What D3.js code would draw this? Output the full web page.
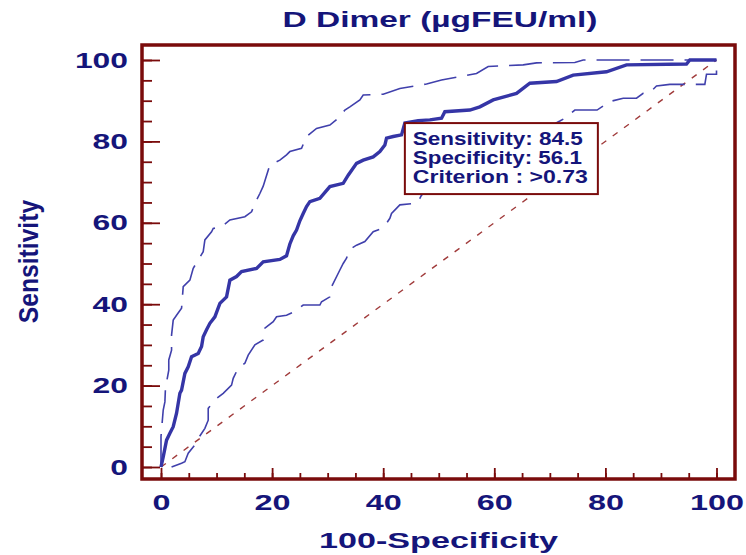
<!DOCTYPE html>
<html>
<head>
<meta charset="utf-8">
<script src="https://cdn.jsdelivr.net/npm/d3@7"></script>
<style>
  body { margin: 0; background: #fff; }
  svg { display: block; }
</style>
</head>
<body>
<svg id="chart" width="746" height="555"></svg>
<script>
// ROC curve for D Dimer: 100-Specificity (x) against Sensitivity (y)
const rocFpr  = [0, 0.4, 1, 1.6, 2.2, 2.8, 3.4, 3.7, 4.3, 4.9, 5.5, 6.7, 7.3, 7.6, 8.2, 8.8, 9.7, 10.6, 11.8, 12.4, 13.6, 14.5, 17.2, 18.4, 21.4, 22.6, 23.2, 23.8, 24.4, 25, 25.6, 26.2, 26.8, 28.6, 30.4, 32.8, 33.7, 35.2, 36.4, 38.2, 39.4, 40.3, 40.6, 41.8, 43.3, 43.9, 46.3, 48.4, 50.5, 51.1, 55.6, 57.4, 59.8, 64, 66.4, 71.2, 74.2, 80.2, 83.8, 94.6, 95.2, 100];
const rocSens = [0, 2.5, 6.6, 8.3, 9.9, 13.2, 18.1, 18.9, 23, 24.6, 27.1, 27.9, 29.6, 32, 33.7, 35.3, 36.9, 40.2, 41.8, 45.9, 46.8, 48, 48.8, 50.4, 51, 51.9, 54.8, 56.8, 58.2, 60.5, 62.3, 64, 65.2, 66, 68.9, 69.7, 71.7, 74.6, 75.4, 76.2, 77.5, 79.1, 80.8, 81.2, 81.6, 84.5, 85.1, 85.3, 85.7, 87.3, 87.7, 88.5, 90.2, 91.8, 94.3, 94.7, 96.3, 97.1, 98.8, 99, 100, 100];

// Upper 95% confidence bound
const ciUpperFpr  = [0, 0, 0.4, 0.7, 0.8, 1.4, 1.4, 1.9, 1.9, 2.2, 2.8, 3.7, 4, 5.2, 5.8, 6.7, 7.6, 7.9, 9.1, 9.4, 10.9, 12.4, 15.1, 16.3, 17.2, 17.8, 18.4, 19.6, 21.4, 22.6, 23.2, 25.3, 26.2, 28, 30.4, 31.9, 33.1, 34, 35.8, 36.4, 40, 43, 47.8, 50.5, 56.8, 58.9, 65.2, 67.6, 74.5, 76, 100];
const ciUpperSens = [0, 7.5, 14, 16, 19.3, 23.8, 26.3, 28.7, 32.4, 36.1, 37.3, 39, 44.3, 45.9, 48.8, 50.9, 52.9, 55.8, 57.8, 58.6, 59, 60.7, 61.5, 62.7, 65.6, 67.2, 69, 74.2, 75.4, 76.7, 77.5, 78.3, 81.2, 83.2, 84, 85.7, 87.7, 88.5, 90.2, 91.4, 91.6, 93, 94.1, 95.1, 96.7, 98.4, 98.8, 99.3, 99.4, 100, 100];

// Lower 95% confidence bound
const ciLowerFpr  = [1.9, 3.7, 4.3, 4.9, 6.1, 6.7, 7.9, 8.5, 8.5, 9.7, 11.2, 12.7, 13, 13.9, 15.1, 15.7, 16.9, 18.4, 18.7, 20.2, 20.8, 22.6, 24.1, 25.6, 28.6, 28.9, 30.4, 30.7, 32.2, 32.8, 33.4, 34, 35.2, 36.7, 38.2, 39.7, 40.6, 41.2, 41.5, 43, 46, 46.6, 46.9, 71.8, 72.7, 74.5, 78.5, 80.8, 83.2, 85.6, 86.8, 88, 89.2, 91.6, 97.9, 98.2, 100, 100];
const ciLowerSens = [0, 0.9, 1.3, 3.4, 5.4, 7, 9.5, 11.5, 14.4, 16.5, 18.1, 20.1, 21.8, 24.3, 25.5, 27.5, 30, 31.2, 34.1, 35.7, 36.9, 37.3, 38.2, 39.8, 39.8, 40.6, 41.8, 44.3, 48.4, 50, 51.3, 53.5, 54.5, 55.4, 57.8, 58.6, 59.9, 61.1, 62.3, 64.4, 64.8, 66, 66.8, 85, 85.7, 87.7, 87.7, 89.8, 90.6, 90.6, 91.8, 92, 93.6, 94, 94, 96.5, 96.5, 100];

// Axis ticks and optimal cut-off
const xTicks = [0, 20, 40, 60, 80, 100];
const yTicks = [0, 20, 40, 60, 80, 100];
const minorStep = 5;
const cutSensitivity = 84.5;
const cutSpecificity = 56.1;
const cutCriterion = ">0.73";

const FONT = "'Liberation Sans', Arial, Helvetica, sans-serif";
const NAVY = "#15157a";
const MAROON = "#7a0b0b";
const CURVE = "#3535a6";
const CI = "#4040ac";
const DIAG = "#a03a3a";

const svg = d3.select("#chart");
svg.append("rect").attr("width", 746).attr("height", 555).attr("fill", "#fff");

const frame = { left: 142, top: 45, right: 735, bottom: 479 };
const x = d3.scaleLinear().domain([0, 100]).range([161, 716.5]);
const y = d3.scaleLinear().domain([0, 100]).range([467, 60]);

const line = d3.line().x(d => x(d[0])).y(d => y(d[1]));
const zipPts = (xs, ys) => xs.map((v, i) => [v, ys[i]]);

// Chance diagonal
svg.append("path")
  .attr("d", line([[0, 0], [100, 100]]))
  .attr("fill", "none").attr("stroke", DIAG)
  .attr("stroke-width", 1.4).attr("stroke-dasharray", "6,8");

// Confidence bounds
[[ciUpperFpr, ciUpperSens], [ciLowerFpr, ciLowerSens]].forEach(([xs, ys]) => {
  svg.append("path")
    .attr("d", line(zipPts(xs, ys)))
    .attr("fill", "none").attr("stroke", CI)
    .attr("stroke-width", 1.6).attr("stroke-dasharray", "33,11");
});

// ROC curve
svg.append("path")
  .attr("d", line(zipPts(rocFpr, rocSens)))
  .attr("fill", "none").attr("stroke", CURVE)
  .attr("stroke-width", 3.4).attr("stroke-linejoin", "miter");

// Frame
svg.append("rect")
  .attr("x", frame.left).attr("y", frame.top)
  .attr("width", frame.right - frame.left).attr("height", frame.bottom - frame.top)
  .attr("fill", "none").attr("stroke", MAROON).attr("stroke-width", 3.5);

function styleAxis(g, digitW) {
  g.select(".domain").remove();
  g.selectAll(".tick line").attr("stroke", MAROON).attr("stroke-width", 1.8);
  g.selectAll(".tick text")
    .attr("fill", NAVY)
    .style("font-family", FONT).style("font-size", "22px").style("font-weight", "bold")
    .attr("textLength", d => String(d).length * digitW)
    .attr("lengthAdjust", "spacingAndGlyphs");
}

const minorVals = d3.range(0, 100 + minorStep, minorStep);

// Left axis: minor then major ticks, pointing into the plot
svg.append("g").attr("transform", `translate(${frame.left},0)`)
  .call(d3.axisLeft(y).tickValues(minorVals).tickSize(-10).tickFormat(""))
  .call(g => styleAxis(g, 17.7));
svg.append("g").attr("transform", `translate(${frame.left},0)`)
  .call(d3.axisLeft(y).tickValues(yTicks).tickSize(-18).tickPadding(14))
  .call(g => styleAxis(g, 17.7));

// Bottom axis
svg.append("g").attr("transform", `translate(0,${frame.bottom})`)
  .call(d3.axisBottom(x).tickValues(minorVals).tickSize(-6).tickFormat(""))
  .call(g => styleAxis(g, 18));
svg.append("g").attr("transform", `translate(0,${frame.bottom})`)
  .call(d3.axisBottom(x).tickValues(xTicks).tickSize(-11).tickPadding(15))
  .call(g => styleAxis(g, 18));

// Titles
svg.append("text")
  .attr("x", 440).attr("y", 27).attr("text-anchor", "middle")
  .attr("fill", NAVY).style("font-family", FONT).style("font-size", "22px").style("font-weight", "bold")
  .attr("textLength", 315).attr("lengthAdjust", "spacingAndGlyphs")
  .text("D Dimer (\u00b5gFEU/ml)");

svg.append("text")
  .attr("x", 438.5).attr("y", 548).attr("text-anchor", "middle")
  .attr("fill", NAVY).style("font-family", FONT).style("font-size", "22px").style("font-weight", "bold")
  .attr("textLength", 239).attr("lengthAdjust", "spacingAndGlyphs")
  .text("100-Specificity");

svg.append("text")
  .attr("transform", "translate(38,261.5) rotate(-90) scale(1.37,1.55)")
  .attr("text-anchor", "middle")
  .attr("fill", NAVY).style("font-family", FONT).style("font-size", "18px").style("font-weight", "bold")
  .text("Sensitivity");

// Cut-off annotation box anchored at the criterion point
const bx = x(100 - cutSpecificity), by = y(cutSensitivity);
const box = svg.append("g").attr("transform", `translate(${bx},${by})`);
box.append("rect")
  .attr("width", 193).attr("height", 71)
  .attr("fill", "#fff").attr("stroke", MAROON).attr("stroke-width", 2);
const boxLines = [
  { t: `Sensitivity: ${cutSensitivity}`, w: 170 },
  { t: `Specificity: ${cutSpecificity}`, w: 169 },
  { t: `Criterion : ${cutCriterion}`, w: 175 }
];
box.selectAll("text.info").data(boxLines).join("text")
  .attr("class", "info")
  .attr("x", 8).attr("y", (d, i) => 21.5 + i * 19)
  .attr("fill", NAVY).style("font-family", FONT).style("font-size", "18px").style("font-weight", "bold")
  .attr("textLength", d => d.w).attr("lengthAdjust", "spacingAndGlyphs")
  .text(d => d.t);
</script>
</body>
</html>
